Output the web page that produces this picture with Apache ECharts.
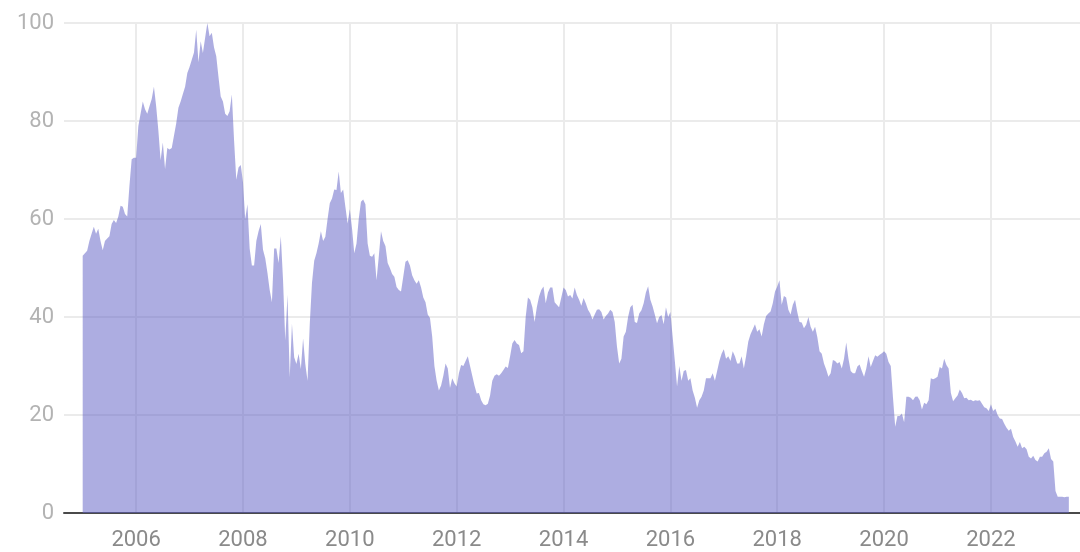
<!DOCTYPE html>
<html>
<head>
<meta charset="utf-8">
<script src="https://cdn.jsdelivr.net/npm/echarts@6/dist/echarts.min.js"></script>
<style>
	html, body { margin: 0; padding: 0; background: #ffffff; }
	#chart { width: 1080px; height: 552px; }
</style>
</head>
<body>
<div id="chart"></div>
<script>
// half-month readings (1st and 16th of each month), one array per year
var v2005 = [52.5, 53, 53.5, 55.5, 57, 58.4, 57, 58, 55.5, 53.6, 55.5, 56, 56.5, 59, 59.8, 59.2, 60.5, 62.7, 62.5, 61, 60.5, 66.8, 72.2, 72.5];
var v2006 = [72.5, 79, 81.5, 84, 82.4, 81.5, 83, 84.5, 87, 83, 78, 72, 75.6, 70.2, 74.5, 74.2, 74.5, 77, 79.5, 82.7, 84, 85.5, 87, 89.8];
var v2007 = [91, 92.5, 94, 98.6, 92, 96.3, 93.9, 97, 100, 97.3, 98, 95, 93.2, 89, 85, 84, 81.5, 81, 82, 85.4, 76, 68, 70.5, 71];
var v2008 = [67.5, 60, 63, 54, 50.5, 50.5, 55.5, 57.5, 59, 53.7, 52, 49, 45.5, 43, 54, 54, 51, 56.5, 47.5, 35.2, 44.5, 27.7, 38.6, 31.8];
var v2009 = [30.4, 32.5, 29.4, 35.6, 30.4, 27, 38.5, 47, 51.5, 53, 55, 57.5, 55.5, 56.4, 60, 63.2, 64.2, 66, 65.9, 69.7, 65.3, 66, 62.5, 59.1];
var v2010 = [62, 58, 53, 55, 60, 63.5, 64, 63, 55, 52.5, 52.3, 53, 47.5, 52.3, 57.5, 55.5, 54.5, 51, 50, 48.8, 48.2, 46.1, 45.5, 45.2];
var v2011 = [48.2, 51.3, 51.6, 50.5, 48.5, 47.5, 46.8, 47.5, 46, 44, 43, 40.5, 39.8, 36, 30, 27, 25, 26, 28, 30.5, 29.5, 25.5, 27.5, 26.5];
var v2012 = [25.8, 28.5, 30.2, 30, 31, 32, 30, 28, 26, 24.4, 24.5, 23, 22.2, 22, 22.3, 24, 27, 28, 28.3, 28, 28.5, 29.2, 29.9, 29.6];
var v2013 = [32, 34.6, 35.3, 34.6, 34.3, 32.6, 33, 40, 44, 43.5, 42, 39, 42, 44.2, 45.5, 46.2, 42.8, 45, 46, 46, 43, 42.5, 42, 44];
var v2014 = [46, 45.5, 44.2, 44.5, 43.8, 46, 44.5, 43.5, 42.3, 43.9, 42.8, 41.5, 40.7, 39.5, 40.5, 41.5, 41.6, 41, 39.5, 40.2, 40.7, 41.5, 41, 39];
var v2015 = [34, 30.5, 31.5, 36, 37, 40, 42, 42.5, 39, 38.8, 40.7, 41.4, 42.8, 45, 46.3, 43.5, 42.2, 40.5, 38.7, 40, 40.4, 38.5, 42, 40];
var v2016 = [41, 36, 31, 25.8, 30, 27, 29, 29.2, 27, 27.5, 25, 23.5, 21.5, 23, 23.7, 25, 27.5, 27.5, 27.5, 28.5, 27, 29, 31, 32.5];
var v2017 = [33.4, 31.5, 32, 31, 33, 32, 30.5, 30.5, 32, 29.5, 32, 35, 36.5, 37.5, 38.5, 37, 37.5, 36, 38.5, 40.2, 40.7, 41.1, 42.8, 45.2];
var v2018 = [46.2, 47.5, 42.5, 44.3, 44, 41.5, 40.5, 42.5, 43.5, 41, 39, 38.9, 37.7, 38.4, 40, 38, 37, 38, 35.9, 33, 32.5, 30.5, 29.3, 27.8];
var v2019 = [28.5, 31.2, 31, 30.5, 30.8, 29.5, 31.5, 34.8, 31.5, 29, 28.5, 28.5, 29.9, 30.3, 29, 27.8, 29.5, 32, 29.8, 31, 32.2, 31.9, 32.3, 32.6];
var v2020 = [33, 32.5, 30.8, 30, 23.5, 17.6, 19.8, 19.8, 20.3, 18.5, 23.7, 23.7, 23.5, 23, 23.7, 23.8, 23, 21.1, 22.5, 22.2, 23, 27.5, 27.3, 27.5];
var v2021 = [27.8, 29.8, 29.5, 31.5, 30.2, 29.5, 24.5, 22.8, 23.4, 24, 25.2, 24.5, 23.4, 23.5, 23, 23.1, 22.8, 23, 22.9, 23, 22.3, 21.6, 21.4, 20.8];
var v2022 = [22.2, 20.8, 21.3, 20, 19.3, 19.2, 18.2, 17.4, 16.8, 17.2, 15.5, 14.6, 13.5, 14.5, 13.2, 13.5, 13, 11.5, 11.1, 11.7, 10.8, 10.5, 11.5, 11.5];
var v2023 = [12.2, 12.5, 13.2, 11, 10.5, 4.5, 3.3, 3.3, 3.3, 3.2, 3.3, 3.3];

var yearTicks = [2006, 2008, 2010, 2012, 2014, 2016, 2018, 2020, 2022];

var byYear = [
	[2005, v2005], [2006, v2006], [2007, v2007], [2008, v2008], [2009, v2009],
	[2010, v2010], [2011, v2011], [2012, v2012], [2013, v2013], [2014, v2014],
	[2015, v2015], [2016, v2016], [2017, v2017], [2018, v2018], [2019, v2019],
	[2020, v2020], [2021, v2021], [2022, v2022], [2023, v2023]
];

// x is the date as a decimal year (half-month steps)
var seriesData = [];
byYear.forEach(function(entry) {
	var year = entry[0];
	entry[1].forEach(function(val, i) {
		seriesData.push([year + i / 24, val]);
	});
});

var myChart = echarts.init(document.getElementById('chart'));

var option = {
	animation: false,
	grid: {
		left: 64,
		right: 0,
		top: 23,
		bottom: 39
	},
	xAxis: {
		type: 'value',
		min: 2004.65,
		max: 2023.667,
		axisLine: {
			lineStyle: { color: '#4a4a4a', width: 2 }
		},
		axisTick: { show: false, customValues: yearTicks },
		axisLabel: {
			customValues: yearTicks,
			formatter: function(v) { return String(v); },
			color: '#8a8a8a',
			fontFamily: 'Roboto',
			fontSize: 22,
			margin: 16
		},
		splitLine: {
			show: true,
			lineStyle: { color: '#ebebeb', width: 2 }
		}
	},
	yAxis: {
		type: 'value',
		min: 0,
		max: 100,
		interval: 20,
		axisLine: { show: false },
		axisTick: { show: false },
		axisLabel: {
			color: '#b3b3b3',
			fontFamily: 'Roboto',
			fontSize: 22,
			margin: 10
		},
		splitLine: {
			lineStyle: { color: '#ebebeb', width: 2 }
		}
	},
	series: [{
		type: 'line',
		data: seriesData,
		showSymbol: false,
		symbol: 'none',
		lineStyle: { width: 0 },
		areaStyle: {
			color: '#6262c6',
			opacity: 0.52
		}
	}]
};

myChart.setOption(option);
</script>
</body>
</html>
